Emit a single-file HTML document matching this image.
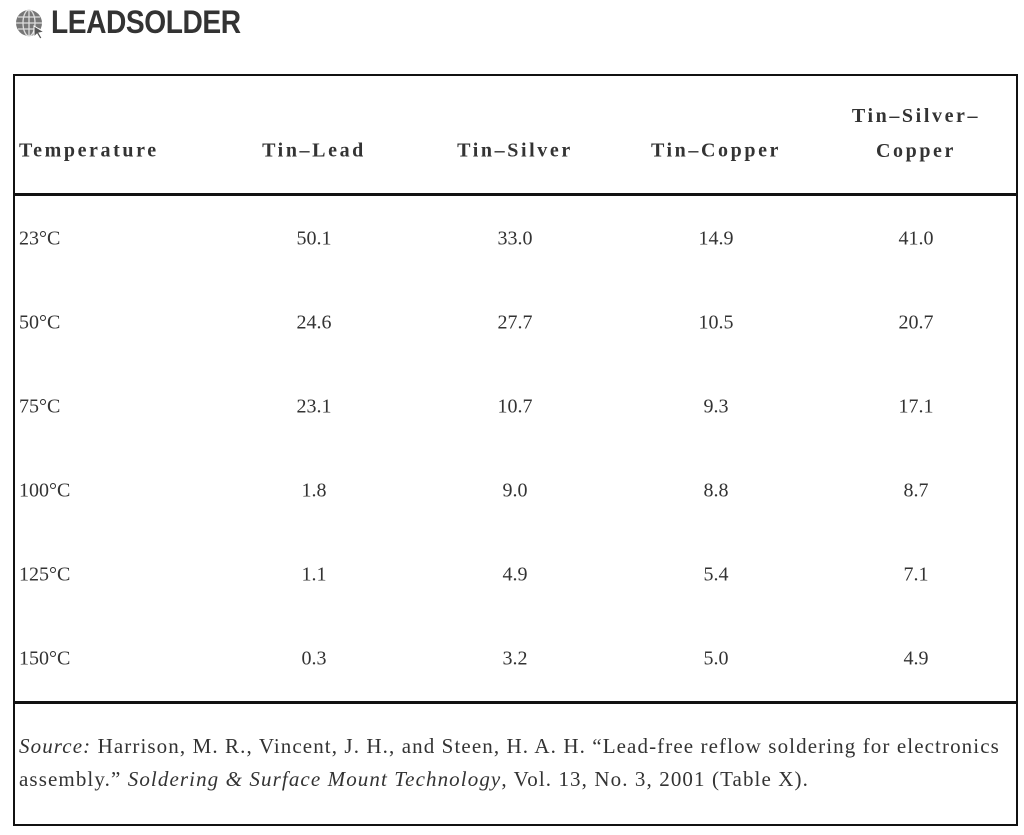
<!DOCTYPE html>
<html><head><style>
body{margin:0;width:1024px;height:835px;background:#fff;position:relative;overflow:hidden;font-family:"Liberation Serif",serif;color:#333}
.a{position:absolute}
.t{position:absolute;font-size:20px;transform:translateY(-50%);white-space:nowrap}
.c{text-align:center;width:200px}
.h{font-weight:bold;letter-spacing:2.6px;font-size:20px}
.ln{position:absolute;background:#111}
</style></head><body>
<svg class="a" style="left:14px;top:8px" width="32" height="32" viewBox="0 0 32 32"><circle cx="15" cy="15" r="13" fill="#777"/><g stroke="#ddd" stroke-width="1.3" fill="none"><ellipse cx="15" cy="15" rx="6" ry="13"/><line x1="2" y1="15" x2="28" y2="15"/><line x1="15" y1="2" x2="15" y2="28"/><line x1="4" y1="9" x2="26" y2="9"/><line x1="4" y1="21" x2="26" y2="21"/></g><path d="M20 18 L30 24 L25 25 L28 30 L26 31 L23 26 L20 29 Z" fill="#555" stroke="#fff" stroke-width="1"/></svg>
<div class="a" style="left:51px;top:4px;font-family:'Liberation Sans',sans-serif;font-weight:bold;font-size:32px;color:#333;letter-spacing:-0.5px;transform:scaleX(0.88);transform-origin:left top">LEADSOLDER</div>
<div class="a" style="left:13px;top:74px;width:1001px;height:748px;border:2px solid #111"></div>
<div class="ln" style="left:13px;top:193px;width:1004px;height:3px"></div>
<div class="ln" style="left:13px;top:701px;width:1004px;height:3px"></div>
<div class="t h" style="left:19px;top:151px">Temperature</div>
<div class="t h c" style="left:214px;top:151px">Tin–Lead</div>
<div class="t h c" style="left:415px;top:151px">Tin–Silver</div>
<div class="t h c" style="left:616px;top:151px">Tin–Copper</div>
<div class="t h c" style="left:816px;top:134px;line-height:35px">Tin–Silver–<br>Copper</div>

<div class="t" style="left:19px;top:239px">23°C</div><div class="t c" style="left:214px;top:239px">50.1</div><div class="t c" style="left:415px;top:239px">33.0</div><div class="t c" style="left:616px;top:239px">14.9</div><div class="t c" style="left:816px;top:239px">41.0</div>
<div class="t" style="left:19px;top:323px">50°C</div><div class="t c" style="left:214px;top:323px">24.6</div><div class="t c" style="left:415px;top:323px">27.7</div><div class="t c" style="left:616px;top:323px">10.5</div><div class="t c" style="left:816px;top:323px">20.7</div>
<div class="t" style="left:19px;top:407px">75°C</div><div class="t c" style="left:214px;top:407px">23.1</div><div class="t c" style="left:415px;top:407px">10.7</div><div class="t c" style="left:616px;top:407px">9.3</div><div class="t c" style="left:816px;top:407px">17.1</div>
<div class="t" style="left:19px;top:491px">100°C</div><div class="t c" style="left:214px;top:491px">1.8</div><div class="t c" style="left:415px;top:491px">9.0</div><div class="t c" style="left:616px;top:491px">8.8</div><div class="t c" style="left:816px;top:491px">8.7</div>
<div class="t" style="left:19px;top:575px">125°C</div><div class="t c" style="left:214px;top:575px">1.1</div><div class="t c" style="left:415px;top:575px">4.9</div><div class="t c" style="left:616px;top:575px">5.4</div><div class="t c" style="left:816px;top:575px">7.1</div>
<div class="t" style="left:19px;top:659px">150°C</div><div class="t c" style="left:214px;top:659px">0.3</div><div class="t c" style="left:415px;top:659px">3.2</div><div class="t c" style="left:616px;top:659px">5.0</div><div class="t c" style="left:816px;top:659px">4.9</div>

<div class="a" style="left:19px;top:730px;width:1000px;font-size:21px;letter-spacing:1.1px;line-height:33px;white-space:nowrap"><i>Source:</i> Harrison, M. R., Vincent, J. H., and Steen, H. A. H. “Lead-free reflow soldering for electronics<br>assembly.” <i>Soldering &amp; Surface Mount Technology</i>, Vol. 13, No. 3, 2001 (Table X).</div>
</body></html>
